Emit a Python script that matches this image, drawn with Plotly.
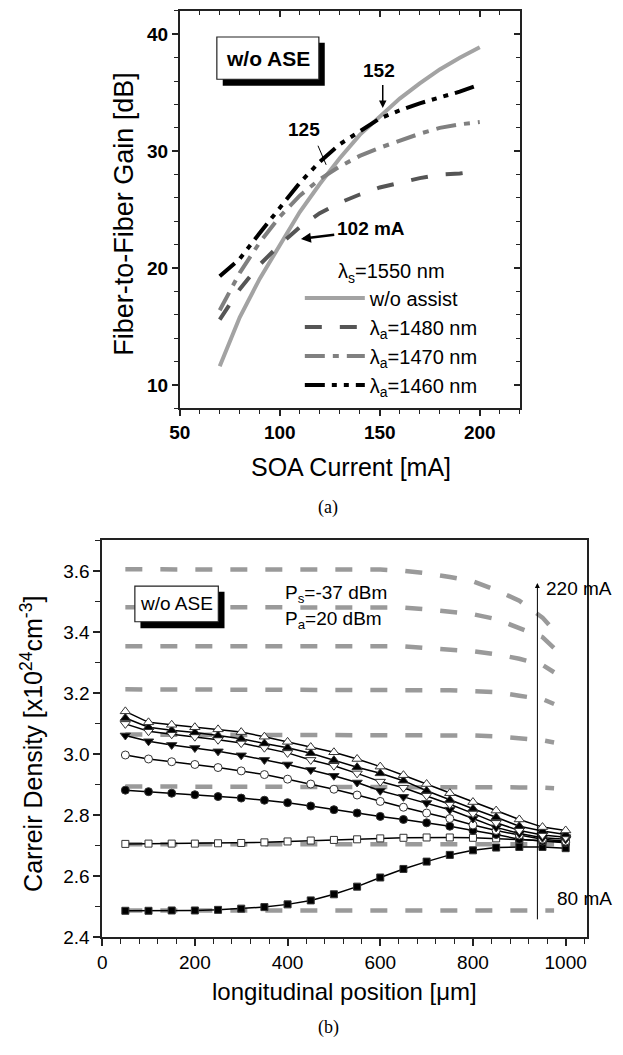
import plotly.graph_objects as go

# the page body keeps its default 8 px margin, so the figure is 16 px
# smaller than the window and every position below is given in window pixels
PAGE_W, PAGE_H = 623, 1055
OFF = 8
W, H = PAGE_W - 2 * OFF, PAGE_H - 2 * OFF

# ---- (a) gain vs SOA current
current = [70, 80, 90, 100, 110, 120, 130, 140, 150, 160, 170, 180, 190, 200]
gain_no_assist = [11.6, 15.8, 19.1, 22.0, 24.8, 27.2, 29.4, 31.4, 33.0, 34.5, 35.8, 37.0, 38.0, 38.9]
gain_1480 = [15.6, 18.2, 20.3, 22.0, 23.5, 24.7, 25.6, 26.3, 26.9, 27.3, 27.7, 28.0, 28.1, 28.3]
gain_1470 = [16.4, 19.6, 22.2, 24.4, 26.2, 27.6, 28.7, 29.6, 30.3, 30.9, 31.5, 32.0, 32.3, 32.5]
gain_1460 = [19.3, 20.8, 23.0, 25.2, 27.3, 29.1, 30.6, 31.7, 32.8, 33.5, 34.1, 34.6, 35.1, 35.7]

# ---- (b) carrier density along the SOA
position = [50, 100, 150, 200, 250, 300, 350, 400, 450, 500,
            550, 600, 650, 700, 750, 800, 850, 900, 950, 1000]
n_80 = [2.487, 2.487, 2.488, 2.488, 2.490, 2.494, 2.499, 2.508, 2.521, 2.541,
        2.566, 2.596, 2.624, 2.648, 2.670, 2.685, 2.694, 2.696, 2.696, 2.692]
n_100 = [2.706, 2.707, 2.707, 2.707, 2.708, 2.709, 2.711, 2.714, 2.717, 2.719,
         2.721, 2.724, 2.726, 2.727, 2.727, 2.726, 2.724, 2.720, 2.716, 2.712]
n_120 = [2.882, 2.877, 2.872, 2.867, 2.861, 2.856, 2.849, 2.841, 2.830, 2.818,
         2.807, 2.796, 2.786, 2.775, 2.764, 2.750, 2.737, 2.721, 2.715, 2.710]
n_140 = [2.997, 2.984, 2.975, 2.966, 2.956, 2.945, 2.933, 2.918, 2.902, 2.885,
         2.866, 2.845, 2.826, 2.807, 2.789, 2.768, 2.750, 2.735, 2.721, 2.715]
n_160 = [3.061, 3.042, 3.030, 3.020, 3.009, 2.996, 2.981, 2.966, 2.948, 2.929,
         2.907, 2.880, 2.860, 2.840, 2.818, 2.789, 2.760, 2.740, 2.726, 2.721]
n_180 = [3.099, 3.075, 3.065, 3.057, 3.047, 3.036, 3.021, 3.004, 2.981, 2.962,
         2.937, 2.910, 2.890, 2.864, 2.836, 2.806, 2.775, 2.750, 2.735, 2.728]
n_200 = [3.118, 3.088, 3.078, 3.071, 3.061, 3.050, 3.035, 3.021, 3.003, 2.980,
         2.957, 2.937, 2.913, 2.880, 2.850, 2.821, 2.793, 2.764, 2.748, 2.737]
n_220 = [3.140, 3.104, 3.096, 3.088, 3.081, 3.072, 3.057, 3.040, 3.023, 3.006,
         2.984, 2.959, 2.931, 2.902, 2.872, 2.843, 2.815, 2.786, 2.761, 2.750]

# gray dashed reference curves
pos_ref = [50, 200, 400, 600, 650, 700, 750, 800, 850, 900, 950, 975]
ref_80 = [2.488, 2.488, 2.488, 2.488, 2.488, 2.488, 2.488, 2.488, 2.488, 2.488, 2.488, 2.488]
ref_100 = [2.705, 2.705, 2.705, 2.705, 2.705, 2.705, 2.705, 2.705, 2.705, 2.705, 2.705, 2.705]
ref_120 = [2.894, 2.894, 2.894, 2.894, 2.894, 2.894, 2.893, 2.893, 2.892, 2.891, 2.890, 2.888]
ref_140 = [3.064, 3.064, 3.064, 3.064, 3.064, 3.063, 3.062, 3.061, 3.058, 3.053, 3.045, 3.038]
ref_160 = [3.212, 3.212, 3.212, 3.212, 3.212, 3.211, 3.209, 3.206, 3.203, 3.191, 3.180, 3.164]
ref_180 = [3.353, 3.353, 3.353, 3.353, 3.353, 3.347, 3.343, 3.337, 3.327, 3.312, 3.292, 3.268]
ref_200 = [3.481, 3.481, 3.481, 3.481, 3.480, 3.474, 3.466, 3.458, 3.442, 3.414, 3.383, 3.347]
ref_220 = [3.605, 3.605, 3.605, 3.604, 3.600, 3.592, 3.580, 3.566, 3.537, 3.502, 3.447, 3.405]

FONT = "Liberation Sans, Arial, sans-serif"
SERIF = "Liberation Serif, Times New Roman, serif"


def px(x):
    return (x - OFF) / W


def py(y):
    return 1 - (y - OFF) / H


fig = go.Figure()

# (a) curves
curves_a = [
    ("w/o assist", gain_no_assist, "#a3a3a3", "solid"),
    ("λ<sub>a</sub>=1480 nm", gain_1480, "#555555", "17px,18px"),
    ("λ<sub>a</sub>=1470 nm", gain_1470, "#808080", "20px,8px,6px,8px"),
    ("λ<sub>a</sub>=1460 nm", gain_1460, "#000000", "20px,7px,5px,7px,5px,7px"),
]
for name, vals, color, dash in curves_a:
    fig.add_trace(go.Scatter(x=current, y=vals, mode="lines", name=name,
                             line=dict(color=color, width=4, dash=dash),
                             xaxis="x", yaxis="y"))
# empty trace so the inward top/right tick axes are drawn
fig.add_trace(go.Scatter(x=[], y=[], xaxis="x3", yaxis="y3",
                         showlegend=False, hoverinfo="skip"))

# (b) reference dashed curves
for vals in [ref_80, ref_100, ref_120, ref_140, ref_160, ref_180, ref_200, ref_220]:
    fig.add_trace(go.Scatter(x=pos_ref, y=vals, mode="lines", showlegend=False,
                             line=dict(color="#9a9a9a", width=4.5, dash="17px,18px"),
                             xaxis="x2", yaxis="y2"))

# (b) marker series
series_b = [
    ("80 mA", n_80, "square", "black", 7),
    ("100 mA", n_100, "square", "white", 7),
    ("120 mA", n_120, "circle", "black", 8),
    ("140 mA", n_140, "circle", "white", 8),
    ("160 mA", n_160, "triangle-down", "black", 9),
    ("180 mA", n_180, "triangle-down", "white", 9),
    ("200 mA", n_200, "triangle-up", "black", 9),
    ("220 mA", n_220, "triangle-up", "white", 9),
]
for name, vals, sym, fill, size in series_b:
    fig.add_trace(go.Scatter(
        x=position, y=vals, mode="lines+markers", name=name, showlegend=False,
        line=dict(color="black", width=1.5),
        marker=dict(symbol=sym, size=size, color=fill,
                    line=dict(color="#333333", width=1)),
        xaxis="x2", yaxis="y2"))

axis_common = dict(showline=True, linecolor="#222", linewidth=1.5,
                   showgrid=False, zeroline=False, tickcolor="#222")

fig.update_layout(
    width=W, height=H,
    margin=dict(l=0, r=0, t=0, b=0),
    paper_bgcolor="white", plot_bgcolor="white",
    font=dict(family=FONT, color="black"),
    xaxis=dict(domain=[px(171.7), px(518)], anchor="y", range=[50, 220],
               tick0=50, dtick=50, ticks="outside", ticklen=6, tickwidth=1.5,
               mirror=True,
               minor=dict(dtick=10, ticks="outside", ticklen=4, tickwidth=1.2, tickcolor="#222"),
               tickfont=dict(size=19, weight="bold"), **axis_common),
    yaxis=dict(domain=[py(412.7), py(11)], anchor="x", range=[8, 42],
               tick0=0, dtick=10, ticks="outside", ticklen=6, tickwidth=1.5,
               mirror=True,
               minor=dict(dtick=2, ticks="outside", ticklen=4, tickwidth=1.2, tickcolor="#222"),
               tickfont=dict(size=19, weight="bold"), **axis_common),
    xaxis3=dict(overlaying="x", anchor="y", side="top", range=[50, 220],
                tick0=50, dtick=50, ticks="inside", ticklen=6, tickwidth=1.5,
                tickcolor="#222", showticklabels=False, showgrid=False,
                zeroline=False, showline=False,
                minor=dict(dtick=10, ticks="inside", ticklen=4, tickwidth=1.2, tickcolor="#222")),
    yaxis3=dict(overlaying="y", anchor="x", side="right", range=[8, 42],
                tick0=0, dtick=10, ticks="inside", ticklen=6, tickwidth=1.5,
                tickcolor="#222", showticklabels=False, showgrid=False,
                zeroline=False, showline=False,
                minor=dict(dtick=2, ticks="inside", ticklen=4, tickwidth=1.2, tickcolor="#222")),
    xaxis2=dict(domain=[px(92.7), px(586)], anchor="y2", range=[0, 1045],
                tick0=0, dtick=200, ticks="outside", ticklen=7, tickwidth=1.5,
                mirror=True,
                minor=dict(dtick=40, ticks="outside", ticklen=5, tickwidth=1.2, tickcolor="#222"),
                tickfont=dict(size=19), **axis_common),
    yaxis2=dict(domain=[py(947.3), py(546)], anchor="x2", range=[2.4, 3.7],
                tick0=2.4, dtick=0.2, tickformat=".1f", ticks="outside", ticklen=7,
                tickwidth=1.5, mirror=True,
                minor=dict(dtick=0.1, ticks="outside", ticklen=5, tickwidth=1.2, tickcolor="#222"),
                tickfont=dict(size=19), **axis_common),
    legend=dict(x=px(294), y=py(255), xanchor="left", yanchor="top",
                bgcolor="rgba(0,0,0,0)", font=dict(size=20), itemwidth=60,
                title=dict(text="λ<sub>s</sub>=1550 nm", side="top center",
                           font=dict(size=20)),
                tracegroupgap=0),
    showlegend=True,
)

shapes = [
    # (a) "w/o ASE" box with shadow
    dict(type="rect", xref="paper", yref="paper", x0=px(215.5), x1=px(319.4),
         y0=py(86.7), y1=py(43), fillcolor="black", line=dict(width=0)),
    dict(type="rect", xref="paper", yref="paper", x0=px(209.5), x1=px(313.4),
         y0=py(80), y1=py(37.3), fillcolor="white", line=dict(color="#222", width=1.2)),
    # (b) "w/o ASE" box with shadow
    dict(type="rect", xref="paper", yref="paper", x0=px(131.7), x1=px(217.3),
         y0=py(635), y1=py(598), fillcolor="black", line=dict(width=0)),
    dict(type="rect", xref="paper", yref="paper", x0=px(126), x1=px(211),
         y0=py(628.3), y1=py(592.3), fillcolor="white", line=dict(color="#222", width=1.2)),
]
fig.update_layout(shapes=shapes)

ann = []


def label(text, x, y, size, bold=False, angle=0, xanchor="center", family=FONT):
    ann.append(dict(text=text, x=px(x), y=py(y), xref="paper", yref="paper",
                    xanchor=xanchor, yanchor="middle", showarrow=False,
                    textangle=angle,
                    font=dict(size=size, family=family,
                              weight="bold" if bold else "normal")))


# axis titles and captions
label("Fiber-to-Fiber Gain [dB]", 115, 216, 27, angle=-90)
label("SOA Current [mA]", 346, 471.7, 25)
label("Carreir Density [x10<sup>24</sup>cm<sup>-3</sup>]", 21, 752, 25, angle=-90)
label("longitudinal position [μm]", 340, 1001.7, 24)
label("(a)", 323, 513, 18, family=SERIF)
label("(b)", 323, 1038, 18, family=SERIF)

# (a) annotations
label("w/o ASE", 261.5, 58.7, 21, bold=True)
for text, x, y in [("152", 149.4, 36.9), ("125", 112.1, 31.9), ("102 mA", 145.8, 23.4)]:
    ann.append(dict(text=text, x=x, y=y, xref="x", yref="y", showarrow=False,
                    font=dict(size=19, weight="bold")))
ann.append(dict(text="", x=151.5, y=33.7, ax=151.5, ay=35.8, xref="x", yref="y",
                axref="x", ayref="y", showarrow=True, arrowhead=2, arrowsize=1,
                arrowwidth=1.5, arrowcolor="black"))
ann.append(dict(text="", x=110.6, y=22.5, ax=128.0, ay=22.87, xref="x", yref="y",
                axref="x", ayref="y", showarrow=True, arrowhead=2, arrowsize=0.8,
                arrowwidth=2.5, arrowcolor="black"))
ann.append(dict(text="", x=123.2, y=28.84, ax=118.8, ay=30.6, xref="x", yref="y",
                axref="x", ayref="y", showarrow=True, arrowhead=0,
                arrowwidth=1, arrowcolor="black"))

# (b) annotations
label("w/o ASE", 168.5, 610.3, 19)
label("P<sub>s</sub>=-37 dBm", 276.7, 600, 19, xanchor="left")
label("P<sub>a</sub>=20 dBm", 276.7, 626.7, 19, xanchor="left")
label("220 mA", 614, 595, 19, xanchor="right")
label("80 mA", 614, 908, 19, xanchor="right")
ann.append(dict(text="", x=939, y=3.56, ax=939, ay=2.454, xref="x2", yref="y2",
                axref="x2", ayref="y2", showarrow=True, arrowhead=2, arrowsize=1,
                arrowwidth=1, arrowcolor="black"))

fig.update_layout(annotations=ann)

fig.write_html("out.html")
